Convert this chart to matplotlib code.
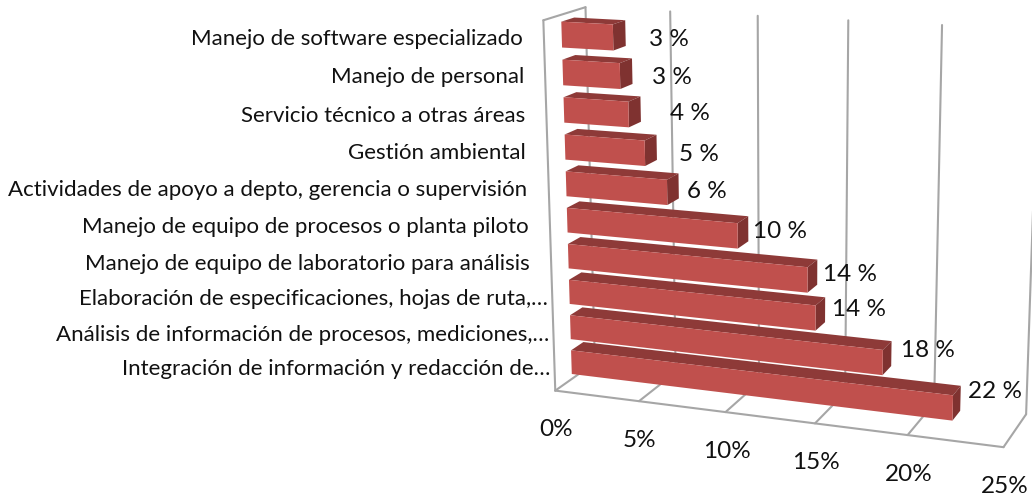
#!/bin/python3
import numpy as np
import matplotlib
matplotlib.use('Agg')
import matplotlib.pyplot as plt
from matplotlib.patches import Polygon

plt.rcParams['font.family'] = ['Lato', 'DejaVu Sans']

# top to bottom, as in the picture
CATEGORIES = [
    'Manejo de software especializado',
    'Manejo de personal',
    'Servicio técnico a otras áreas',
    'Gestión ambiental',
    'Actividades de apoyo a depto, gerencia o supervisión',
    'Manejo de equipo de procesos o planta piloto',
    'Manejo de equipo de laboratorio para análisis',
    'Elaboración de especificaciones, hojas de ruta,…',
    'Análisis de información de procesos, mediciones,…',
    'Integración de información y redacción de…',
]
VALUES = [3.0, 3.35, 3.8, 4.7, 5.95, 9.95, 13.85, 14.3, 18.0, 21.8]
VALUE_LABELS = ['3 %', '3 %', '4 %', '5 %', '6 %', '10 %', '14 %', '14 %', '18 %', '22 %']
TICKS = [0, 5, 10, 15, 20, 25]
TICK_LABELS = ['0%', '5%', '10%', '15%', '20%', '25%']

# the labels were dragged by hand in the original, px from the bar end / bar middle
LABEL_DX = [43, 40, 49, 42, 28, 32, 33, 34, 37, 34]
LABEL_DY = [-6, -6, -4, -7, -6, -3, -2, 0, 3, 7]
NAME_DY = [-4, -5, -6, -6, -6, -7, -8, -7, -8, -7]

GRID = '#A6A6A6'
FRONT = '#C0504D'
TOP = '#8E3A38'
SIDE = '#7F3230'
D0, D1 = 0.41, 0.72   # bar depth range in the box
BAR = 0.068           # bar thickness, fraction of the wall height

# perspective camera: (value, depth, height) -> pixel, fitted on the box corners
ANCHORS = (
    (0, 0, 0, 556, 389), (5, 0, 0, 640, 400), (10, 0, 0, 726, 412), (15, 0, 0, 815, 424),
    (20, 0, 0, 907, 436), (25, 0, 0, 1003, 449), (0, 0, 1, 542, 20), (0, 1, 1, 587, 7),
    (5, 1, 1, 670, 12), (10, 1, 1, 758, 16), (15, 1, 1, 848, 20), (20, 1, 1, 942, 25),
    (0, 1, 0, 593, 365), (15, 1, 0, 845, 394), (20, 1, 0, 935, 399),
)
rows, rhs = [], []
for v, d, h, px, py in ANCHORS:
    rows.append([v, d, h, 1, 0, 0, 0, 0, -px * v, -px * d, -px * h])
    rows.append([0, 0, 0, 0, v, d, h, 1, -py * v, -py * d, -py * h])
    rhs += [px, py]
CAM = np.append(np.linalg.lstsq(np.array(rows, float), np.array(rhs, float), rcond=None)[0], 1).reshape(3, 4)


def proj(v, d, h):
    x, y, w = CAM @ np.array([v, d, h, 1.0])
    return x / w, y / w


fig = plt.figure(figsize=(10.32, 4.98), dpi=100)
ax = fig.add_axes([0, 0, 1, 1])
ax.set_xlim(0, 1032)
ax.set_ylim(498, 0)
ax.axis('off')


def line(a, b):
    ax.plot(*zip(proj(*a), proj(*b)), color=GRID, lw=1.5, solid_capstyle='round', zorder=1)


for t, lab in zip(TICKS, TICK_LABELS):
    line((t, 0, 0), (t, 1, 0))
    line((t, 1, 0), (t, 1, 1))
    ax.annotate(lab, proj(t, 0, 0), xytext=(1, -39), textcoords='offset pixels',
                ha='center', va='center', fontsize=17.5, color='#111111')
line((0, 0, 0), (25, 0, 0))
line((0, 0, 0), (0, 0, 1))
line((0, 0, 1), (0, 1, 1))

n = len(CATEGORIES)
for i, (name, val) in enumerate(zip(CATEGORIES, VALUES)):
    lo = (n - 1 - i) / n + 0.014
    hi = lo + BAR
    ax.add_patch(Polygon([proj(0, D0, hi), proj(0, D1, hi), proj(val, D1, hi), proj(val, D0, hi)], color=TOP, lw=0, zorder=2 + i))
    ax.add_patch(Polygon([proj(val, D0, lo), proj(val, D1, lo), proj(val, D1, hi), proj(val, D0, hi)], color=SIDE, lw=0, zorder=2 + i))
    ax.add_patch(Polygon([proj(0, D0, lo), proj(val, D0, lo), proj(val, D0, hi), proj(0, D0, hi)], color=FRONT, lw=0, zorder=2 + i))

    # labels end further right when Excel cut them with an ellipsis
    pad = -21 if name.endswith('…') else -39
    ax.annotate(name, proj(0, D0, (lo + hi) / 2), xytext=(pad, NAME_DY[i]), textcoords='offset pixels',
                ha='right', va='center', fontsize=16.0, color='#111111', zorder=30)
    ax.annotate(VALUE_LABELS[i], proj(val, D1, (lo + hi) / 2), xytext=(LABEL_DX[i], LABEL_DY[i]), textcoords='offset pixels',
                ha='center', va='center', fontsize=17.5, color='#111111', zorder=30)

fig.savefig('out.png', dpi=100)
